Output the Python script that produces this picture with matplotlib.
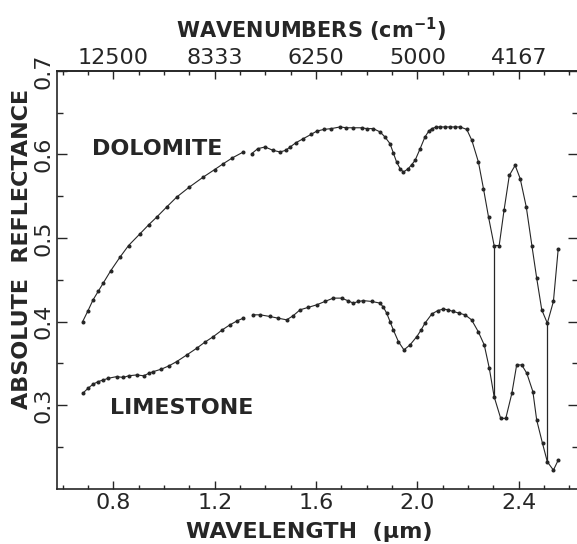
import numpy as np
import matplotlib
matplotlib.use("Agg")
import matplotlib.pyplot as plt
from matplotlib.ticker import FixedLocator, FuncFormatter

# Reflectance spectra, wavelength in micrometres (nan = gap in the trace)
dolomite_wl = [
    0.679, 0.70, 0.72, 0.74, 0.760, 0.79, 0.826, 0.86, 0.905, 0.94, 0.971,
    1.01, 1.050, 1.10, 1.155, 1.20, 1.234, 1.27, 1.313, np.nan,
    1.346, 1.37, 1.399, 1.43, 1.458, 1.48, 1.498, 1.52, 1.550, 1.58, 1.603,
    1.63, 1.66, 1.695, 1.72, 1.747, 1.78, 1.80, 1.826, 1.853, 1.872, 1.892,
    1.905, 1.918, 1.932, 1.945, 1.964, 1.978, 1.991, 2.011, 2.030, 2.045,
    2.057, 2.075, 2.090, 2.11, 2.13, 2.15, 2.169, 2.195, 2.215, 2.241, 2.261,
    2.281, 2.303, 2.323, 2.342, 2.363, 2.386, 2.406, 2.430, 2.452, 2.471,
    2.491, 2.513, 2.537, 2.556,
]
dolomite_r = [
    0.400, 0.413, 0.426, 0.436, 0.446, 0.461, 0.477, 0.491, 0.505, 0.516, 0.525,
    0.537, 0.549, 0.561, 0.573, 0.582, 0.589, 0.596, 0.603, np.nan,
    0.601, 0.607, 0.609, 0.605, 0.603, 0.605, 0.609, 0.614, 0.619, 0.624, 0.628,
    0.630, 0.631, 0.633, 0.632, 0.632, 0.632, 0.631, 0.631, 0.627, 0.621, 0.613,
    0.602, 0.591, 0.583, 0.579, 0.583, 0.588, 0.593, 0.607, 0.621, 0.628,
    0.631, 0.633, 0.633, 0.633, 0.633, 0.633, 0.633, 0.630, 0.617, 0.591, 0.559,
    0.525, 0.491, 0.491, 0.533, 0.575, 0.587, 0.571, 0.537, 0.491, 0.452,
    0.414, 0.398, 0.424, 0.487,
]

limestone_wl = [
    0.679, 0.70, 0.72, 0.74, 0.760, 0.78, 0.813, 0.84, 0.86, 0.892, 0.92,
    0.94, 0.958, 0.99, 1.02, 1.050, 1.09, 1.129, 1.16, 1.195, 1.23, 1.260,
    1.29, 1.313, np.nan,
    1.353, 1.38, 1.418, 1.45, 1.484, 1.51, 1.537, 1.57, 1.603, 1.635, 1.668,
    1.701, 1.725, 1.747, 1.767, 1.787, 1.82, 1.853, 1.866, 1.879, 1.892,
    1.905, 1.925, 1.947, 1.971, 1.998, 2.015, 2.030, 2.057, 2.08, 2.103,
    2.12, 2.142, 2.165, 2.188, 2.214, 2.240, 2.264, 2.284, 2.303, 2.329,
    2.349, 2.373, 2.392, 2.412, 2.432, 2.456, 2.471, 2.494, 2.513, 2.537,
    2.556,
]
limestone_r = [
    0.314, 0.320, 0.325, 0.328, 0.330, 0.332, 0.334, 0.333, 0.335, 0.336, 0.335,
    0.338, 0.340, 0.343, 0.347, 0.352, 0.360, 0.368, 0.375, 0.382, 0.390, 0.396,
    0.401, 0.404, np.nan,
    0.408, 0.408, 0.406, 0.404, 0.402, 0.407, 0.414, 0.417, 0.420, 0.424, 0.428,
    0.428, 0.425, 0.422, 0.424, 0.425, 0.424, 0.422, 0.417, 0.410, 0.400,
    0.390, 0.376, 0.366, 0.372, 0.382, 0.390, 0.398, 0.409, 0.413, 0.415,
    0.414, 0.412, 0.410, 0.408, 0.402, 0.388, 0.372, 0.344, 0.310, 0.284,
    0.284, 0.314, 0.348, 0.348, 0.338, 0.316, 0.282, 0.254, 0.232, 0.222,
    0.234,
]

# wavelengths where the pen jumps between the two traces
jump_wl = [2.303, 2.513]

x_major = [0.8, 1.2, 1.6, 2.0, 2.4]
x_minor = [0.6, 0.7, 0.9, 1.0, 1.1, 1.3, 1.4, 1.5, 1.7, 1.8, 1.9,
           2.1, 2.2, 2.3, 2.5, 2.6]
y_major = [0.3, 0.4, 0.5, 0.6, 0.7]
y_minor = [0.25, 0.35, 0.45, 0.55, 0.65]

ink = "#262626"

fig = plt.figure(figsize=(5.77, 5.44), dpi=100)
ax = fig.add_axes([0.0993, 0.102, 0.9024, 0.7675])

ax.plot(dolomite_wl, dolomite_r, color=ink, lw=0.8, marker="o", ms=1.9,
        mec=ink, mfc=ink)
ax.plot(limestone_wl, limestone_r, color=ink, lw=0.8, marker="o", ms=1.9,
        mec=ink, mfc=ink)

dol = dict(zip(dolomite_wl, dolomite_r))
lim = dict(zip(limestone_wl, limestone_r))
for w in jump_wl:
    ax.vlines(w, lim[w], dol[w], color=ink, lw=0.9)

ax.set_xlim(0.5787, 2.634)
ax.set_ylim(0.2, 0.7)

ax.xaxis.set_major_locator(FixedLocator(x_major))
ax.xaxis.set_minor_locator(FixedLocator(x_minor))
ax.yaxis.set_major_locator(FixedLocator(y_major))
ax.yaxis.set_minor_locator(FixedLocator(y_minor))
ax.xaxis.set_major_formatter(FuncFormatter(lambda v, p: f"{v:.1f}"))
ax.yaxis.set_major_formatter(FuncFormatter(lambda v, p: f"{v:.1f}"))

ax.tick_params(axis="both", which="both", direction="in", colors=ink,
               labelsize=16, right=True)
ax.tick_params(axis="x", which="major", length=5.5, width=1.0, pad=3)
ax.tick_params(axis="x", which="minor", length=3, width=1.0)
ax.tick_params(axis="y", which="major", length=7, width=1.0, pad=3)
ax.tick_params(axis="y", which="minor", length=4, width=1.0)
for lab in ax.get_yticklabels():
    lab.set_rotation(90)
    lab.set_va("center")

for sp in ax.spines.values():
    sp.set_linewidth(1.2)
    sp.set_color(ink)

# wavenumber scale along the top edge
top = ax.secondary_xaxis("top")
top.xaxis.set_major_locator(FixedLocator(x_major))
top.xaxis.set_minor_locator(FixedLocator(x_minor))
top.xaxis.set_major_formatter(FuncFormatter(lambda v, p: f"{10000 / v:.0f}"))
top.tick_params(which="both", direction="in", colors=ink, labelsize=16, pad=2)
top.tick_params(which="major", length=6, width=1.0)
top.tick_params(which="minor", length=3, width=1.0)
top.spines["top"].set_linewidth(1.2)
top.spines["top"].set_color(ink)

ax.text(0.716, 0.599, "DOLOMITE", fontsize=16, fontweight="bold", color=ink,
        ha="left", va="baseline")
ax.text(0.787, 0.289, "LIMESTONE", fontsize=16, fontweight="bold", color=ink,
        ha="left", va="baseline")

fig.text(309 / 577, 1 - 538 / 544, "WAVELENGTH  (\u03bcm)", fontsize=16,
         fontweight="bold", color=ink, ha="center", va="baseline")
fig.text(311 / 577, 1 - 38 / 544, r"WAVENUMBERS (cm$^{\mathbf{-1}}$)",
         fontsize=15, fontweight="bold", color=ink, ha="center", va="baseline")
fig.text(22 / 577, 1 - 249 / 544, "ABSOLUTE  REFLECTANCE", fontsize=16,
         fontweight="bold", color=ink, rotation=90, ha="center", va="center")

fig.savefig("out.png", dpi=100, facecolor="white")
